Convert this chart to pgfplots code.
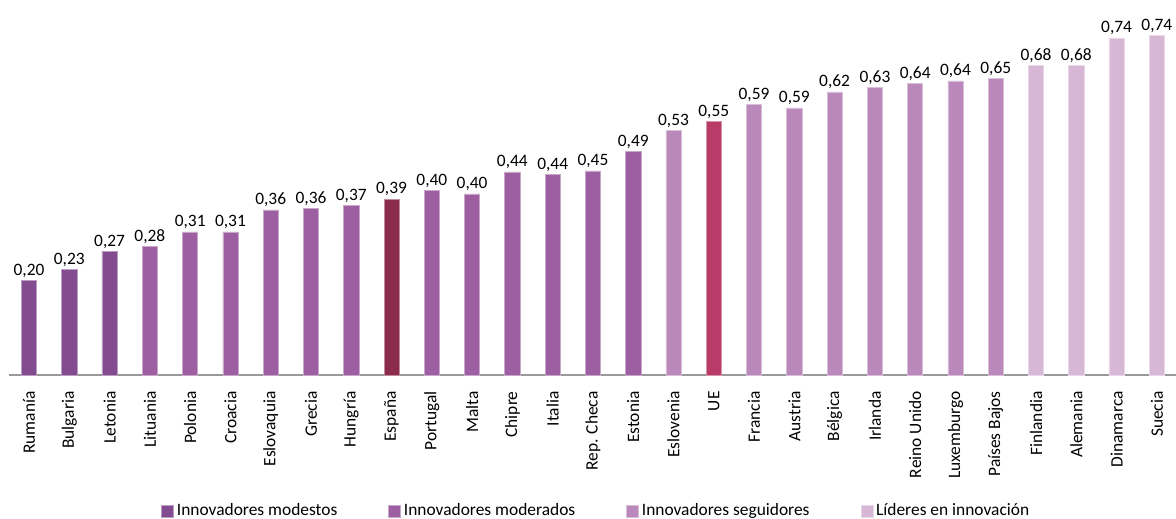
\documentclass[border=0pt]{standalone}
\usepackage{fontspec}
\setmainfont{Carlito}
\usepackage{pgfplots}
\usepackage{pgfplotstable}
\pgfplotsset{compat=1.18}
\definecolor{cmod}{HTML}{834C90}
\definecolor{cmoder}{HTML}{9D5FA1}
\definecolor{cfol}{HTML}{BA88BA}
\definecolor{clead}{HTML}{D6B8D6}
\definecolor{cesp}{HTML}{8B2C4C}
\definecolor{cue}{HTML}{B83C67}
\pgfplotstableread{
x y label
0 0.206 0,20
1 0.230 0,23
2 0.271 0,27
}\modest
\pgfplotstableread{
x y label
3 0.282 0,28
4 0.313 0,31
5 0.313 0,31
6 0.361 0,36
7 0.365 0,36
8 0.370 0,37
10 0.403 0,40
11 0.396 0,40
12 0.444 0,44
13 0.438 0,44
14 0.446 0,45
15 0.488 0,49
}\moderate
\pgfplotstableread{
x y label
9 0.385 0,39
}\espana
\pgfplotstableread{
x y label
16 0.534 0,53
18 0.591 0,59
19 0.584 0,59
20 0.619 0,62
21 0.628 0,63
22 0.637 0,64
23 0.643 0,64
24 0.648 0,65
}\followers
\pgfplotstableread{
x y label
17 0.554 0,55
}\ue
\pgfplotstableread{
x y label
25 0.676 0,68
26 0.676 0,68
27 0.737 0,74
28 0.742 0,74
}\leaders
\begin{document}
\begin{tikzpicture}
\begin{axis}[
  name=ax,
  scale only axis,
  width=584pt, height=183pt,
  xmin=-0.5, xmax=28.5, ymin=0, ymax=0.8,
  enlargelimits=false,
  axis x line*=bottom,
  axis y line=none,
  x axis line style={-, draw=black!40, line width=0.6pt},
  major tick length=0pt,
  xtick={0,...,28},
  xticklabels={Rumanía,Bulgaria,Letonia,Lituania,Polonia,Croacia,Eslovaquia,Grecia,Hungría,España,Portugal,Malta,Chipre,Italia,Rep. Checa,Estonia,Eslovenia,UE,Francia,Austria,Bélgica,Irlanda,Reino Unido,Luxemburgo,Países Bajos,Finlandia,Alemania,Dinamarca,Suecia},
  xticklabel style={rotate=90, anchor=east, inner sep=0pt, xshift=-8pt, font=\fontsize{8.7}{10}\selectfont},
  ybar, bar width=7.6pt, bar shift=0pt,
  point meta=explicit symbolic,
  nodes near coords={\pgfplotspointmeta},
  every node near coord/.append style={font=\fontsize{8.7}{10}\selectfont, anchor=base, inner sep=0pt, yshift=2.5pt, text=black},
  clip=false,
  legend columns=4,
  legend style={draw=none, fill=none, at={(0.502,-0.372)}, anchor=center,
    font=\fontsize{8.7}{10}\selectfont,
    /tikz/every odd column/.append style={column sep=1.5pt},
    /tikz/every even column/.append style={column sep=25.5pt},
    nodes={inner sep=0pt}},
  legend image code/.code={\fill[#1] (0pt,-3pt) rectangle (6pt,3pt);},
]
\addplot[fill=cmod, draw=cmod!55!white, line width=0.3pt] table[x=x,y=y,meta=label]{\modest};
\addlegendentry{Innovadores modestos}
\addplot[fill=cmoder, draw=cmoder!55!white, line width=0.3pt] table[x=x,y=y,meta=label]{\moderate};
\addlegendentry{Innovadores moderados}
\addplot[fill=cfol, draw=cfol!55!white, line width=0.3pt] table[x=x,y=y,meta=label]{\followers};
\addlegendentry{Innovadores seguidores}
\addplot[fill=clead, draw=clead!55!white, line width=0.3pt] table[x=x,y=y,meta=label]{\leaders};
\addlegendentry{Líderes en innovación}
\addplot[forget plot, fill=cesp, draw=cesp!55!white, line width=0.3pt] table[x=x,y=y,meta=label]{\espana};
\addplot[forget plot, fill=cue, draw=cue!55!white, line width=0.3pt] table[x=x,y=y,meta=label]{\ue};
\end{axis}
\pgfresetboundingbox
\useasboundingbox ([xshift=-4.45pt, yshift=-71.5pt]ax.south west) rectangle ([xshift=-0.5pt, yshift=4.5pt]ax.north east);
\end{tikzpicture}
\end{document}
